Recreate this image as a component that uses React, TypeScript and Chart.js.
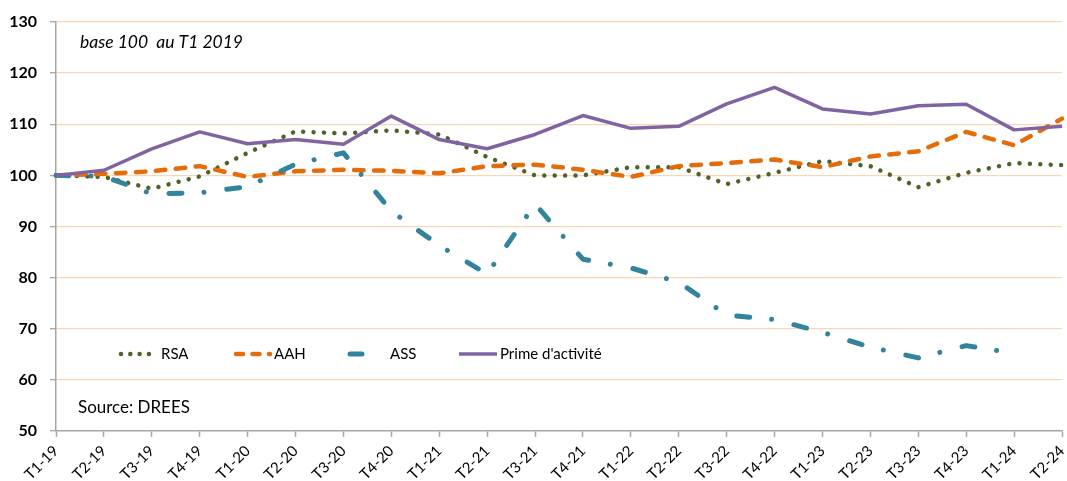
import React, { useEffect, useRef } from "react";
import { Chart, registerables } from "chart.js";

Chart.register(...registerables);

const labels = [
  "T1-19", "T2-19", "T3-19", "T4-19",
  "T1-20", "T2-20", "T3-20", "T4-20",
  "T1-21", "T2-21", "T3-21", "T4-21",
  "T1-22", "T2-22", "T3-22", "T4-22",
  "T1-23", "T2-23", "T3-23", "T4-23",
  "T1-24", "T2-24",
];

const rsa = [100, 99.7, 97.4, 99.8, 104.4, 108.6, 108.2, 108.8, 108.0, 103.6, 100.0, 100.0, 101.6, 101.6, 98.3, 100.5, 102.8, 101.8, 97.7, 100.5, 102.4, 102.0];
const aah = [100, 100.3, 100.8, 101.8, 99.7, 100.8, 101.1, 100.9, 100.4, 101.8, 102.1, 101.1, 99.7, 101.8, 102.4, 103.1, 101.6, 103.7, 104.7, 108.5, 105.9, 111.1];
const ass = [100, 99.8, 96.4, 96.6, 97.8, 102.2, 104.4, 93.0, 86.3, 80.7, 94.4, 83.6, 81.9, 79.1, 72.7, 71.8, 69.3, 66.4, 64.3, 66.7, 65.2, null];
const prime = [100, 101.0, 105.2, 108.5, 106.2, 107.0, 106.1, 111.6, 107.0, 105.2, 108.0, 111.7, 109.2, 109.6, 114.0, 117.2, 113.0, 112.0, 113.6, 113.9, 108.9, 109.6];

const seriesNames = ["RSA", "AAH", "ASS", "Prime d'activité"];
const yTicks = [50, 60, 70, 80, 90, 100, 110, 120, 130];
const noteText = "base 100  au T1 2019";
const sourceText = "Source: DREES";

const COLORS = ["#4F6228", "#E46C0A", "#31849B", "#8064A2"];
const WIDTHS = [4.5, 4.5, 5, 3.5];
const DASHES = [[0.01, 10.4], [9.5, 10.5], [13, 22, 0.01, 23], []];
const FONT = "Lato, 'Open Sans', sans-serif";

function fitFont(ctx: CanvasRenderingContext2D, text: string, style: string, target: number) {
  ctx.font = `${style} 20px ${FONT}`;
  const w = ctx.measureText(text).width;
  const size = (20 * target) / w;
  ctx.font = `${style} ${size.toFixed(2)}px ${FONT}`;
}

const overlayPlugin = {
  id: "overlay",
  afterDraw(chart: any) {
    const ctx = chart.ctx as CanvasRenderingContext2D;
    ctx.save();
    ctx.fillStyle = "#000";
    ctx.textBaseline = "alphabetic";
    ctx.textAlign = "left";
    fitFont(ctx, noteText, "italic", 163);
    ctx.fillText(noteText, 80, 48);
    fitFont(ctx, sourceText, "normal", 112);
    ctx.fillText(sourceText, 78, 413);

    // legend
    const legendY = 354;
    const items = [
      { x0: 121, x1: 158, tx: 161 },
      { x0: 236, x1: 270, tx: 274 },
      { x0: 350, x1: 381, tx: 390 },
      { x0: 459, x1: 497, tx: 500 },
    ];
    items.forEach((it, i) => {
      ctx.save();
      ctx.strokeStyle = COLORS[i];
      ctx.lineWidth = WIDTHS[i];
      ctx.lineCap = i === 3 ? "butt" : "round";
      if (i === 0) ctx.setLineDash([0.01, 9.3]);
      else if (i === 1) ctx.setLineDash([7, 9.5]);
      else if (i === 2) ctx.setLineDash([12, 19, 0.01, 30]);
      else ctx.setLineDash([]);
      ctx.beginPath();
      ctx.moveTo(it.x0, legendY);
      ctx.lineTo(it.x1, legendY);
      ctx.stroke();
      ctx.restore();
      ctx.fillStyle = "#000";
      ctx.font = `15px ${FONT}`;
      ctx.textBaseline = "alphabetic";
      ctx.fillText(seriesNames[i], it.tx, 359);
    });
    ctx.restore();
  },
};

export default function App() {
  const canvasRef = useRef<HTMLCanvasElement | null>(null);

  useEffect(() => {
    if (!canvasRef.current) return;
    const seriesData = [rsa, aah, ass, prime];
    const chart = new Chart(canvasRef.current, {
      type: "line",
      data: {
        labels,
        datasets: seriesData.map((d, i) => ({
          label: seriesNames[i],
          data: d,
          borderColor: COLORS[i],
          backgroundColor: COLORS[i],
          borderWidth: WIDTHS[i],
          borderDash: DASHES[i],
          borderCapStyle: i === 3 ? "butt" : "round",
          borderJoinStyle: "round",
          pointRadius: 0,
          pointHoverRadius: 0,
          tension: 0,
          spanGaps: false,
          order: 4 - i,
          fill: false,
        })),
      },
      options: {
        responsive: false,
        animation: false,
        events: [],
        layout: {
          autoPadding: false,
          padding: { top: 22, right: 5, left: 0, bottom: 0 },
        },
        plugins: {
          legend: { display: false },
          tooltip: { enabled: false },
          title: { display: false },
        },
        scales: {
          x: {
            type: "category",
            offset: false,
            grid: {
              display: true,
              drawOnChartArea: false,
              drawTicks: true,
              tickLength: 6,
              tickColor: "#A6A6A6",
              tickWidth: 1.5,
            },
            border: { display: true, color: "#A6A6A6", width: 1.5 },
            ticks: {
              autoSkip: false,
              maxRotation: 45,
              minRotation: 45,
              padding: 5,
              color: "#000",
              font: { family: FONT, size: 15 },
            },
            afterFit: (s: any) => {
              s.height = 50;
              s.paddingRight = 0;
              s.paddingLeft = 0;
            },
          },
          y: {
            min: 50,
            max: 130,
            afterBuildTicks: (s: any) => {
              s.ticks = yTicks.map((v) => ({ value: v }));
            },
            grid: {
              color: (c: any) => (c.tick && c.tick.value === 50 ? "rgba(0,0,0,0)" : "#FCD5B4"),
              lineWidth: 1.3,
              drawTicks: true,
              tickLength: 6,
              tickColor: "#A6A6A6",
            },
            border: { display: true, color: "#A6A6A6", width: 1.5 },
            ticks: {
              padding: 13,
              color: "#000",
              font: { family: FONT, size: 16, weight: "bold" },
            },
            afterFit: (s: any) => {
              s.width = 56;
              s.paddingTop = 0;
              s.paddingBottom = 0;
            },
          },
        },
      },
      plugins: [overlayPlugin],
    } as any);
    return () => chart.destroy();
  }, []);

  return (
    <div style={{ position: "fixed", left: 0, top: 0, width: 1067, height: 481, background: "#fff" }}>
      <canvas ref={canvasRef} width={1067} height={481} style={{ display: "block", width: 1067, height: 481 }} />
    </div>
  );
}
